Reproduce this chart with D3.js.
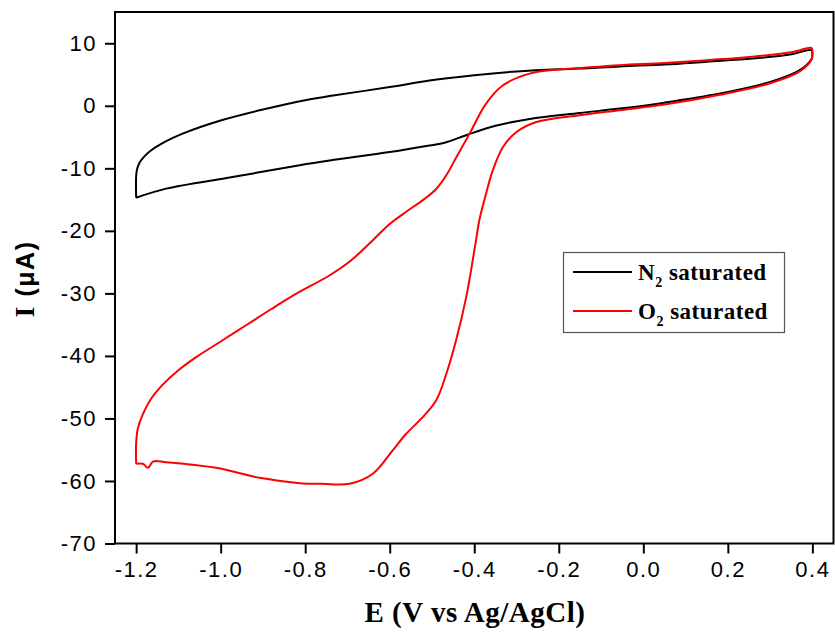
<!DOCTYPE html>
<html>
<head>
<meta charset="utf-8">
<script src="https://cdn.jsdelivr.net/npm/d3@7"></script>
<style>
  body { margin: 0; background: #fff; }
  svg { display: block; }
</style>
</head>
<body>
<div class="chart"></div>
<script>
// N2 saturated: anodic sweep (-1.2 -> 0.4) then cathodic sweep back
var n2Potential = [-1.2, -1.2, -1.198, -1.192, -1.182, -1.168, -1.13, -1.09, -1.0, -0.9, -0.8, -0.742, -0.6, -0.506, -0.4, -0.3, -0.2, -0.15, -0.056, 0.05, 0.15, 0.259, 0.354, 0.398,
                   0.4, 0.398, 0.37, 0.3, 0.181, 0.05, -0.056, -0.15, -0.269, -0.35, -0.419, -0.47, -0.506, -0.6, -0.742, -0.813, -0.972, -1.129, -1.2];
var n2Current   = [-14.7, -11.3, -10.2, -9.1, -8.2, -7.3, -5.7, -4.45, -2.35, -0.6, 0.9, 1.55, 3.0, 4.05, 4.9, 5.5, 5.85, 5.95, 6.3, 6.6, 7.05, 7.55, 8.3, 8.9,
                   8.3, 7.5, 5.7, 3.8, 1.95, 0.5, -0.45, -1.15, -2.1, -3.2, -4.7, -5.9, -6.35, -7.4, -8.75, -9.5, -11.4, -13.25, -14.7];

// O2 saturated
var o2Potential = [-1.2, -1.2, -1.196, -1.184, -1.165, -1.137, -1.1, -1.058, -1.0, -0.94, -0.88, -0.821, -0.742, -0.691, -0.64, -0.6, -0.56, -0.52, -0.49, -0.465, -0.443, -0.411, -0.372, -0.332, -0.269, -0.2, -0.15, -0.056, 0.05, 0.15, 0.259, 0.354, 0.398,
                   0.4, 0.398, 0.37, 0.3, 0.181, 0.05, -0.056, -0.15, -0.253, -0.3, -0.332, -0.356, -0.372, -0.388, -0.397, -0.419, -0.443, -0.466, -0.49, -0.522, -0.561, -0.593, -0.64, -0.695, -0.76, -0.813, -0.908, -1.011, -1.129, -1.16, -1.172, -1.184, -1.2];
var o2Current   = [-57.25, -54, -51.6, -49.3, -46.9, -44.6, -42.3, -40.2, -37.7, -35.1, -32.5, -30.05, -27.1, -24.7, -21.5, -18.9, -16.9, -15.0, -13.3, -11.0, -8.3, -4.45, 0.35, 3.28, 5.15, 5.8, 6.05, 6.5, 6.85, 7.3, 7.85, 8.6, 9.25,
                   8.5, 7.4, 5.5, 3.6, 1.75, 0.2, -0.7, -1.5, -2.6, -4.2, -6.6, -10.3, -14.05, -18.3, -22.0, -30.6, -37.5, -42.85, -47.1, -49.8, -52.45, -55.1, -58.85, -60.45, -60.45, -60.35, -59.5, -57.9, -57.0, -56.9, -57.9, -57.25, -57.25];

var xTicks = [-1.2, -1.0, -0.8, -0.6, -0.4, -0.2, 0.0, 0.2, 0.4];
var yTicks = [-70, -60, -50, -40, -30, -20, -10, 0, 10];

var seriesNames = ['N', 'O'];
var seriesColors = ['#000000', '#ff0000'];

var width = 835, height = 632;
var margin = {top: 12, right: 1.5, bottom: 88.5, left: 115};

var svg = d3.select('.chart').append('svg')
    .attr('width', width)
    .attr('height', height);

var x = d3.scaleLinear().domain([-1.25, 0.45]).range([margin.left, width - margin.right]);
var y = d3.scaleLinear().domain([-70, 15]).range([height - margin.bottom, margin.top]);

var tickFont = '"Liberation Sans", Arial, sans-serif';
var titleFont = '"Liberation Serif", "Times New Roman", serif';

// axes
var xAxis = svg.append('g')
    .attr('transform', 'translate(0,' + (height - margin.bottom) + ')')
    .call(d3.axisBottom(x).tickValues(xTicks).tickSize(10).tickSizeOuter(0).tickPadding(8)
        .tickFormat(function(d) { return d.toFixed(1); }));

var yAxis = svg.append('g')
    .attr('transform', 'translate(' + margin.left + ',0)')
    .call(d3.axisLeft(y).tickValues(yTicks).tickSize(10).tickSizeOuter(0).tickPadding(8)
        .tickFormat(function(d) { return String(d); }));

[xAxis, yAxis].forEach(function(a) {
    a.select('.domain').remove();
    a.selectAll('.tick line').attr('stroke', '#000').attr('stroke-width', 2);
    a.selectAll('.tick text')
        .attr('fill', '#000')
        .style('font-family', tickFont)
        .style('font-size', '22px')
        .style('letter-spacing', '1.5px');
});

// frame
svg.append('rect')
    .attr('x', margin.left)
    .attr('y', margin.top)
    .attr('width', width - margin.left - margin.right)
    .attr('height', height - margin.top - margin.bottom)
    .attr('fill', 'none')
    .attr('stroke', '#000')
    .attr('stroke-width', 2);

// curves
var line = d3.line()
    .x(function(d) { return x(d[0]); })
    .y(function(d) { return y(d[1]); })
    .curve(d3.curveCatmullRom.alpha(0.5));

var n2Data = d3.zip(n2Potential, n2Current);
var o2Data = d3.zip(o2Potential, o2Current);

svg.append('path')
    .datum(n2Data)
    .attr('d', line)
    .attr('fill', 'none')
    .attr('stroke', seriesColors[0])
    .attr('stroke-width', 2);

svg.append('path')
    .datum(o2Data)
    .attr('d', line)
    .attr('fill', 'none')
    .attr('stroke', seriesColors[1])
    .attr('stroke-width', 2);

// axis titles
svg.append('text')
    .attr('x', 475)
    .attr('y', 622)
    .attr('text-anchor', 'middle')
    .style('font-family', titleFont)
    .style('font-weight', 'bold')
    .style('font-size', '29px')
    .style('letter-spacing', '0.5px')
    .text('E (V vs Ag/AgCl)');

var yt = svg.append('text')
    .attr('transform', 'translate(34,279) rotate(-90)')
    .attr('text-anchor', 'middle')
    .style('font-weight', 'bold')
    .style('font-size', '25px')
    .style('letter-spacing', '1.5px');
yt.append('tspan').style('font-family', titleFont).style('font-size', '28px').text('I ');
yt.append('tspan').style('font-family', tickFont).text('(\u03bcA)');

// legend
var legend = svg.append('g');
legend.append('rect')
    .attr('x', 563.5).attr('y', 252.5)
    .attr('width', 221).attr('height', 80)
    .attr('fill', '#fff')
    .attr('stroke', '#555')
    .attr('stroke-width', 1.2);

var rows = legend.selectAll('.row')
    .data(seriesNames)
    .enter().append('g')
        .attr('class', 'row')
        .attr('transform', function(d, i) { return 'translate(0,' + (272 + i * 39) + ')'; });

rows.append('line')
    .attr('x1', 573).attr('x2', 632)
    .attr('stroke', function(d, i) { return seriesColors[i]; })
    .attr('stroke-width', 2);

var lt = rows.append('text')
    .attr('x', 638)
    .attr('y', 8)
    .style('font-family', titleFont)
    .style('font-weight', 'bold')
    .style('font-size', '23px')
    .style('letter-spacing', '0.5px');
lt.append('tspan').text(function(d) { return d; });
lt.append('tspan').attr('dy', 7).style('font-size', '14px').text('2');
lt.append('tspan').attr('dy', -7).text(' saturated');
</script>
</body>
</html>
